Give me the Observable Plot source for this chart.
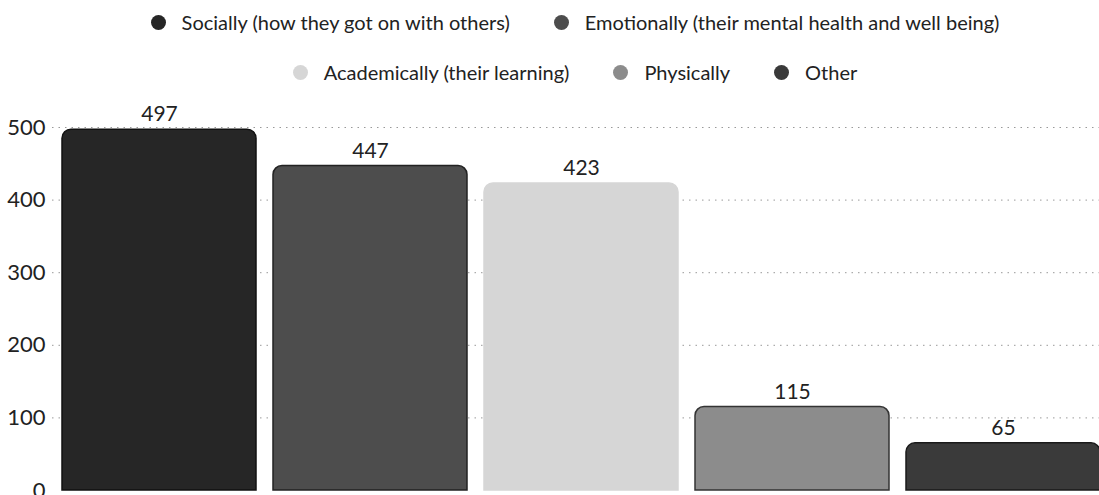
<!DOCTYPE html>
<html>
<head>
<meta charset="utf-8">
<script src="https://cdn.jsdelivr.net/npm/d3@7"></script>
<script src="https://cdn.jsdelivr.net/npm/@observablehq/plot@0.6"></script>
<style>
  html, body { margin: 0; padding: 0; background: #fff; overflow: hidden; width: 1099px; height: 495px; }
  body { font-family: Lato, "Noto Sans", sans-serif; color: #222; }
  #legend { height: 100px; box-sizing: border-box; padding-top: 8px; display: flex; flex-wrap: wrap; justify-content: center; align-content: flex-start; width: 880px; margin-left: 135px; row-gap: 22px; column-gap: 44px; }
  .item { display: flex; align-items: center; font-size: 20px; height: 28px; white-space: nowrap; flex-shrink: 0; }
  .sw { width: 15px; height: 15px; border-radius: 50%; margin-right: 16px; box-sizing: border-box; flex-shrink: 0; }
  #chart { position: relative; width: 1111px; }
  #chart svg { max-width: none !important; }
</style>
</head>
<body>
<div id="legend"></div>
<div id="chart"></div>
<script>
const categories = [
  "Socially (how they got on with others)",
  "Emotionally (their mental health and well being)",
  "Academically (their learning)",
  "Physically",
  "Other"
];
const counts = [497, 447, 423, 115, 65];
const yTicks = [0, 100, 200, 300, 400, 500];
const palette = ["#262626", "#4d4d4d", "#d6d6d6", "#8c8c8c", "#3a3a3a"];
const outline = ["#111111", "#222222", "#d6d6d6", "#333333", "#1a1a1a"];

const data = categories.map((c, i) => ({category: c, value: counts[i]}));

const legend = document.getElementById("legend");
categories.forEach((c, i) => {
  const it = document.createElement("div");
  it.className = "item";
  const sw = document.createElement("span");
  sw.className = "sw";
  sw.style.background = palette[i];
  it.appendChild(sw);
  const t = document.createElement("span");
  t.textContent = c;
  it.appendChild(t);
  legend.appendChild(it);
});

const plot = Plot.plot({
  width: 1111,
  height: 395,
  marginTop: 27,
  marginBottom: 5,
  marginLeft: 52,
  marginRight: 0,
  style: {fontFamily: "Lato, 'Noto Sans', sans-serif", fontSize: "20px", color: "#222", background: "transparent", overflow: "visible", maxWidth: "none"},
  x: {domain: categories, paddingInner: 0.08, paddingOuter: 0.04, axis: null},
  y: {domain: [0, 500], ticks: yTicks, label: null},
  color: {domain: categories, range: palette},
  marks: [
    Plot.ruleY(yTicks.filter(d => d > 0), {stroke: "#999", strokeDasharray: "1.5,5", strokeWidth: 1}),
    Plot.axisY({ticks: yTicks, tickSize: 0, tickPadding: 7, label: null, fontSize: 22, textAnchor: "end"}),
    Plot.barY(data, {x: "category", y: "value", fill: "category", stroke: (d, i) => outline[i], strokeWidth: 1.5, ry1: 9}),
    Plot.text(data, {x: "category", y: "value", text: d => String(d.value), dy: -15, fontSize: 21, fill: "#222"})
  ]
});
document.getElementById("chart").appendChild(plot);
</script>
</body>
</html>
